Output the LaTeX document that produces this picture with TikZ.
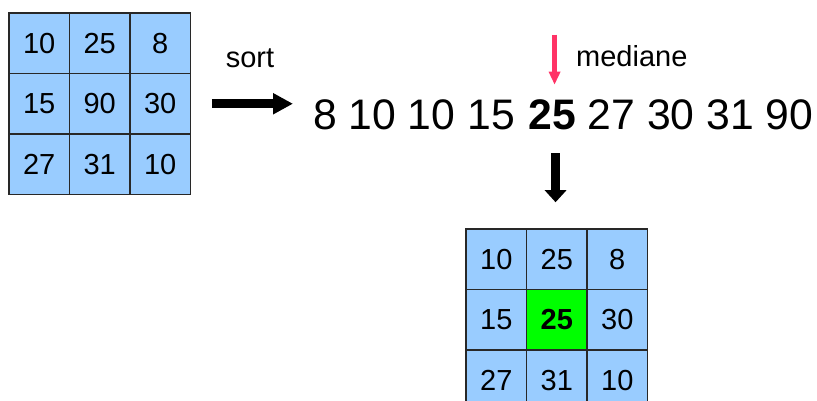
\documentclass[tikz,border=0pt]{standalone}
\usepackage{fontspec}
\setmainfont{Liberation Sans}
\usetikzlibrary{arrows.meta}
\definecolor{cellblue}{RGB}{153,204,255}
\definecolor{medgreen}{RGB}{0,255,0}
\definecolor{medred}{RGB}{255,51,102}
\definecolor{gridline}{RGB}{40,40,40}
\begin{document}
\begin{tikzpicture}[x=1pt,y=-1pt,
  cell/.style={draw=gridline, line width=1.5pt, fill=cellblue, minimum size=60.5pt, inner sep=0pt, font=\fontsize{29}{31}\selectfont},
  seqtext/.style={inner sep=0pt, outer sep=0pt, font=\fontsize{42.7}{44}\selectfont},
  lbl/.style={inner sep=0pt, font=\fontsize{29}{31}\selectfont},
  bigarrow/.style={line width=9pt, -{Triangle[length=20pt,width=20pt]}},
  downarrow/.style={line width=9.5pt, -{Triangle[length=12pt,width=21pt]}},
  redarrow/.style={draw=medred, line width=5pt, -{Triangle[length=13pt,width=11pt]}}]
\clip (0,0) rectangle (817,401);
% left grid
\foreach \v/\c/\r in {10/0/0,25/1/0,8/2/0,15/0/1,90/1/1,30/2/1,27/0/2,31/1/2,10/2/2}
  \node[cell] (L\r\c) at (39.25+60.5*\c, 43.25+60.5*\r) {\v};
% bottom grid
\foreach \v/\c/\r in {10/0/0,25/1/0,8/2/0,15/0/1,30/2/1,27/0/2,31/1/2,10/2/2}
  \node[cell] (B\r\c) at (496.25+60.5*\c, 259.25+60.5*\r) {\v};
\node[cell, fill=medgreen, font=\fontsize{29}{31}\selectfont\bfseries] (B11) at (556.75, 319.75) {25};
% labels
\node[lbl, anchor=base] (sort) at (250,68) {sort};
\node[lbl, anchor=base west] (mediane) at (576,67) {mediane};
% sorted sequence
\node[seqtext, anchor=base west] (s1) at (313,130) {8 10 10 15};
\node[seqtext, anchor=base west, font=\fontsize{42.7}{44}\selectfont\bfseries] (med) at ([xshift=14pt]s1.base east) {25};
\node[seqtext, anchor=base west] (s2) at ([xshift=11.5pt]med.base east) {27 30 31 90};
% arrows
\draw[bigarrow, shorten <=20.5pt, shorten >=20pt] (L12.east) -- (L12.east -| s1.west);
\draw[redarrow] ([xshift=2pt,yshift=65.5pt]med.north) -- ([xshift=2pt,yshift=15.5pt]med.north);
\draw[downarrow, shorten <=23pt, shorten >=26pt] ([xshift=3pt]med.south) -- ([xshift=3pt]med.south |- B01.north);
\end{tikzpicture}
\end{document}
